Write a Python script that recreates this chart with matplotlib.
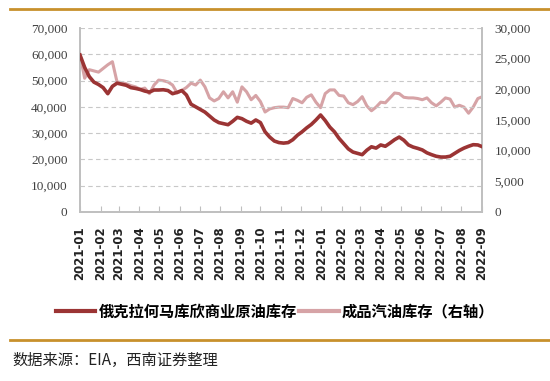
import numpy as np
import pandas as pd
import matplotlib
matplotlib.use("Agg")
import matplotlib.pyplot as plt
import matplotlib.dates as mdates
from matplotlib.lines import Line2D

# 周度数据, 2021-01 至 2022-09 (千桶)
dates = pd.date_range("2021-01-01", periods=88, freq="7D")

cushing = [59.7, 55.0, 51.5, 49.4, 48.5, 47.3, 45.0, 47.8, 49.0, 48.6,
           48.2, 47.3, 47.0, 46.6, 46.0, 45.6, 46.4, 46.4, 46.5, 46.2,
           45.0, 45.5, 46.2, 44.5, 41.0, 40.0, 39.0, 38.0, 36.5, 35.0,
           34.0, 33.6, 33.2, 34.5, 36.0, 35.5, 34.5, 33.8, 35.0, 34.0,
           30.5, 28.5, 27.0, 26.4, 26.2, 26.4, 27.5, 29.2, 30.5, 32.0,
           33.3, 35.0, 36.9, 34.8, 32.3, 30.5, 28.0, 26.0, 24.0, 22.8,
           22.3, 21.8, 23.5, 24.8, 24.3, 25.5, 25.0, 26.2, 27.5, 28.5,
           27.3, 25.5, 24.7, 24.2, 23.6, 22.5, 21.8, 21.2, 20.9, 20.9,
           21.2, 22.3, 23.4, 24.3, 25.0, 25.6, 25.5, 24.8]

gasoline = [25.6, 21.8, 23.2, 23.0, 22.8, 23.4, 24.0, 24.5, 21.2, 21.1,
            20.9, 20.6, 20.4, 20.0, 20.2, 19.3, 20.7, 21.5, 21.4, 21.2,
            20.7, 19.4, 19.8, 20.3, 21.0, 20.7, 21.5, 20.4, 18.6, 18.1,
            18.5, 19.6, 18.6, 19.6, 17.9, 20.4, 19.6, 18.3, 19.0, 18.0,
            16.3, 16.8, 17.0, 17.1, 17.1, 17.0, 18.5, 18.2, 17.8, 18.7,
            19.1, 17.9, 17.0, 19.3, 19.9, 19.9, 19.0, 18.9, 17.8, 17.5,
            18.0, 18.8, 17.3, 16.5, 17.1, 17.9, 17.8, 18.6, 19.4, 19.3,
            18.7, 18.6, 18.6, 18.5, 18.3, 18.6, 17.8, 17.3, 17.9, 18.6,
            18.4, 17.1, 17.4, 17.1, 16.1, 17.1, 18.5, 18.8]

cushing = np.array(cushing) * 1000
gasoline = np.array(gasoline) * 1000

name1 = "俄克拉何马库欣商业原油库存"
name2 = "成品汽油库存（右轴）"
source = "数据来源：EIA，西南证券整理"

dark = "#9b3434"
pink = "#d6a3a6"
gold = "#c8902c"
grey = "#bfbfbf"
cjk = ["Noto Sans CJK SC", "DejaVu Sans"]

fig = plt.figure(figsize=(5.5, 3.81), dpi=100)
ax = fig.add_axes([0.1455, 0.4436, 0.7305, 0.483])
ax2 = ax.twinx()

ax2.plot(dates, gasoline, color=pink, lw=2.2, zorder=2)
ax.plot(dates, cushing, color=dark, lw=2.6, zorder=3)
ax.set_zorder(ax2.get_zorder() + 1)
ax.patch.set_visible(False)

ax.set_ylim(0, 70000)
ax2.set_ylim(0, 30000)
ax.set_yticks(np.arange(0, 70001, 10000))
ax2.set_yticks(np.arange(0, 30001, 5000))
ax.set_xlim(dates[0], pd.Timestamp("2022-09-01"))
ax.yaxis.grid(True, color="#c8c8c8", ls=(0, (4, 3)), lw=0.8)

ax.xaxis.set_major_locator(mdates.MonthLocator())
ax.xaxis.set_major_formatter(mdates.DateFormatter("%Y-%m"))
ax.yaxis.set_major_formatter(plt.FuncFormatter(lambda v, p: f"{int(v):,}"))
ax2.yaxis.set_major_formatter(plt.FuncFormatter(lambda v, p: f"{int(v):,}"))

for a in (ax, ax2):
    a.spines["top"].set_visible(False)
    for s in ("left", "right", "bottom"):
        a.spines[s].set_color(grey)
        a.spines[s].set_linewidth(1.2)
    a.tick_params(axis="y", length=0, pad=9, labelsize=9.5, labelcolor="#404040",
                  labelfontfamily="Liberation Serif")

ax.tick_params(axis="x", direction="in", length=4, color=grey, pad=10,
               labelsize=8.5, labelrotation=90, labelcolor="#222222",
               labelfontfamily="DejaVu Sans")
for lab in ax.get_xticklabels():
    lab.set_fontweight("bold")

handles = [Line2D([], [], color=dark, lw=3), Line2D([], [], color=pink, lw=3)]
fig.legend(handles, [name1, name2], loc="center", bbox_to_anchor=(0.5, 0.183),
           ncol=2, frameon=False, handlelength=2.6, handletextpad=0.2,
           columnspacing=0.15, prop={"family": cjk, "size": 11, "weight": "bold"})

fig.add_artist(Line2D([10 / 550, 1], [1 - 9 / 381] * 2, color=gold, lw=2))
fig.add_artist(Line2D([10 / 550, 1], [1 - 340 / 381] * 2, color=gold, lw=2))
fig.text(12 / 550, 1 - 360 / 381, source, va="center", ha="left",
         family=cjk, fontsize=11, style="italic", color="#222222")

fig.savefig("out.png", dpi=100)
